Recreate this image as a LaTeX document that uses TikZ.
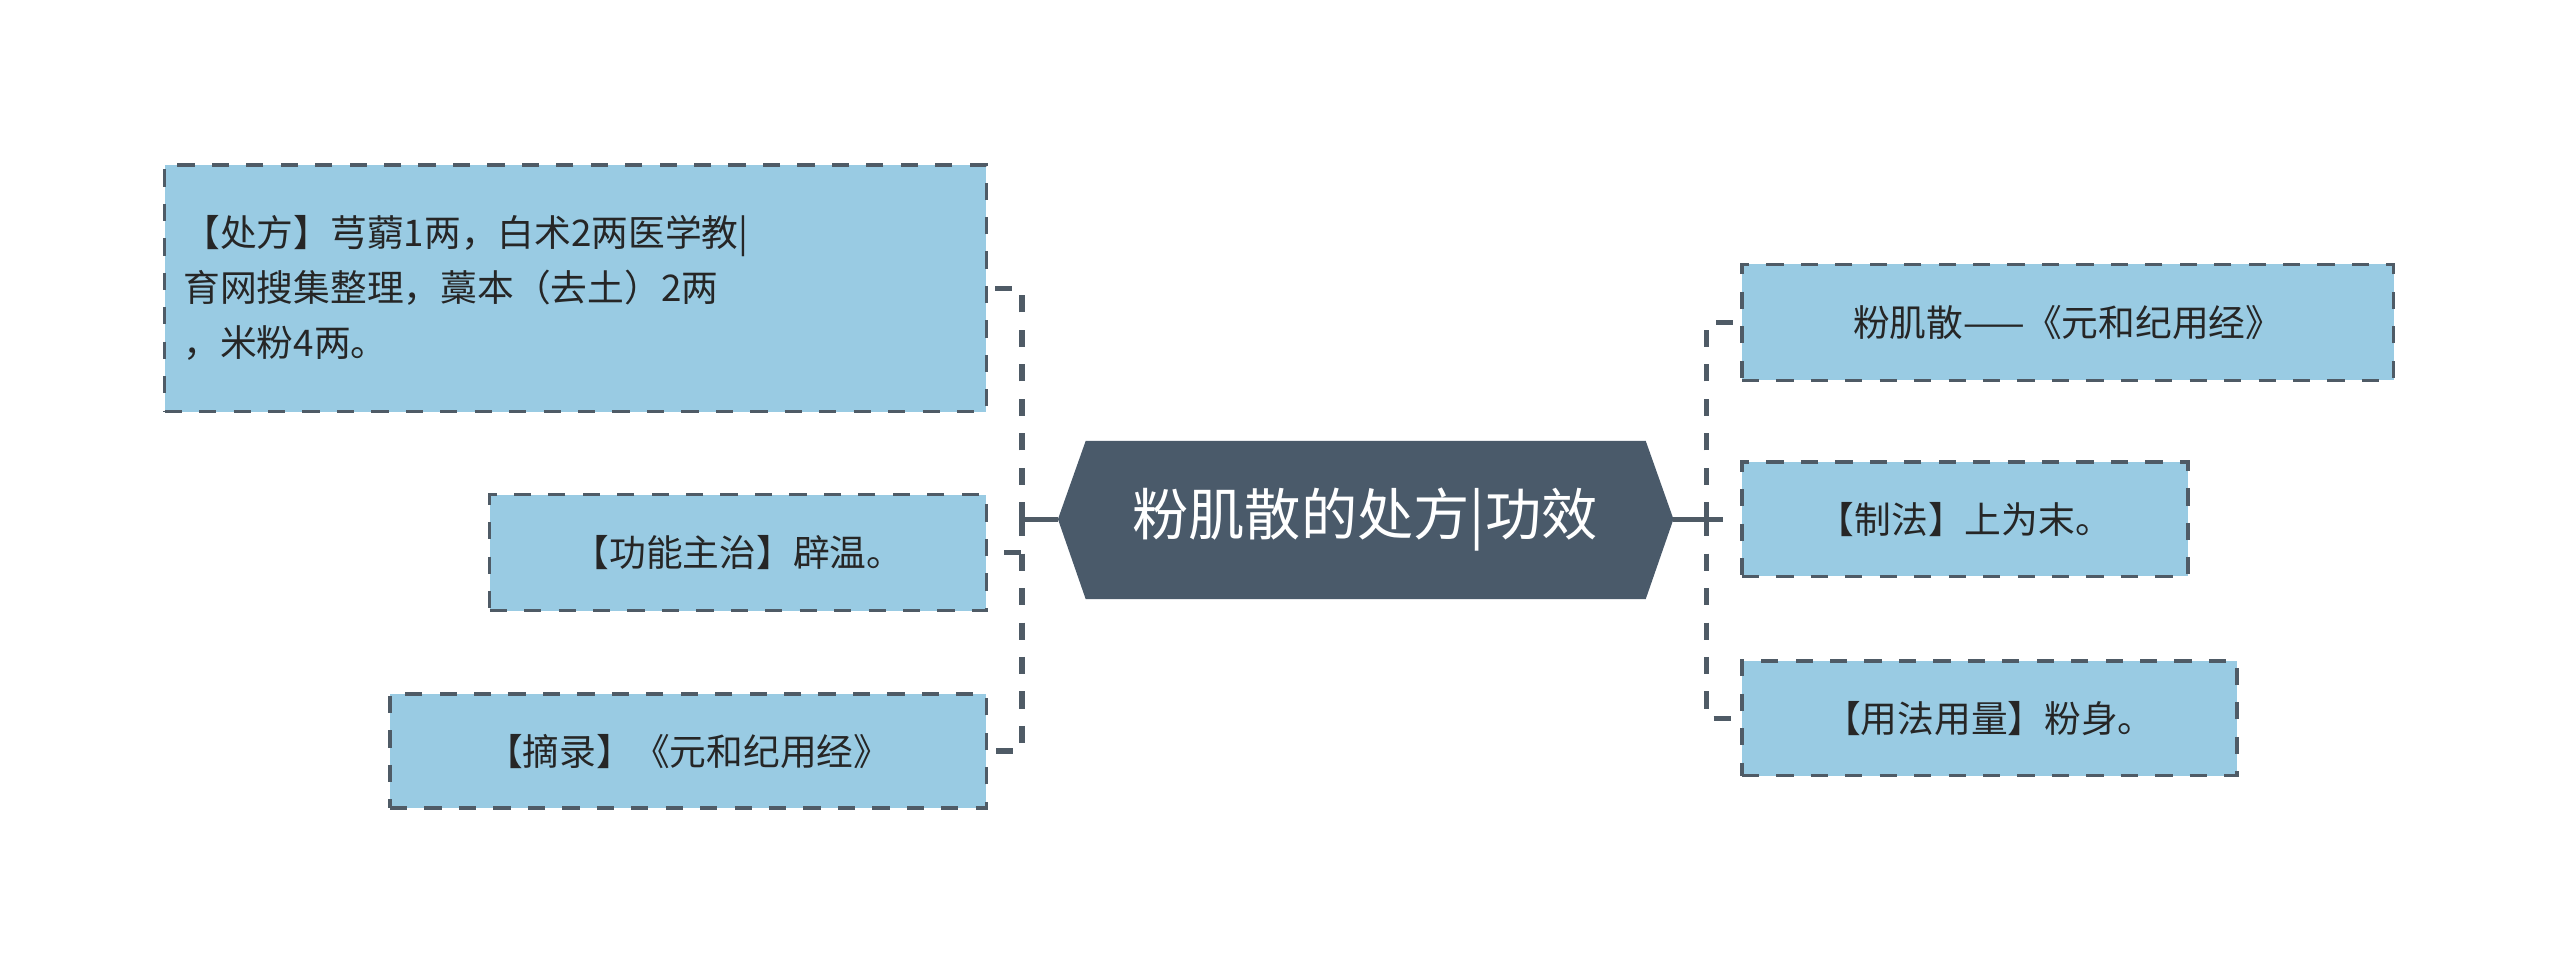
\documentclass[tikz,border=0pt]{standalone}
\usepackage{fontspec}
\newfontfamily\cjk{Noto Sans CJK SC}
\definecolor{boxfill}{HTML}{99CBE3}
\definecolor{edgec}{HTML}{4F5B66}
\definecolor{hexc}{HTML}{4A5A6A}
\begin{document}
\begin{tikzpicture}[x=0.01cm,y=-0.01cm,
  leaf/.style={draw=edgec,dashed,line width=0.6pt,fill=boxfill,inner sep=0pt,font=\cjk\fontsize{6.4pt}{9.6pt}\selectfont,text=black!85},
  link/.style={draw=edgec,dashed,line width=0.9pt},
  stub/.style={draw=edgec,line width=0.9pt}]
\useasboundingbox (0,0) rectangle (1568,597);
% central hexagon
\fill[hexc] (648,318) -- (665,270) -- (1008,270) -- (1025,318) -- (1008,367) -- (665,367) -- cycle;
\node[font=\cjk\fontsize{9.8pt}{12pt}\selectfont,text=white] (c) at (836,318) {粉肌散的处方|功效};
\coordinate (cl) at (648,318);
\coordinate (cr) at (1025,318);
% left boxes
\node[leaf,minimum width=5.03cm,minimum height=1.51cm,text width=4.8cm,align=left] (l1) at (352.5,176.5) {【处方】芎藭1两，白术2两医学教|\\育网搜集整理，藁本（去土）2两\\，米粉4两。};
\node[leaf,minimum width=3.04cm,minimum height=0.71cm] (l2) at (452,338.5) {【功能主治】辟温。};
\node[leaf,minimum width=3.65cm,minimum height=0.70cm] (l3) at (421.5,460) {【摘录】《元和纪用经》};
% right boxes
\node[leaf,minimum width=3.99cm,minimum height=0.71cm] (r1) at (1266.5,197.5) {粉肌散——《元和纪用经》};
\node[leaf,minimum width=2.73cm,minimum height=0.70cm] (r2) at (1203.5,318) {【制法】上为末。};
\node[leaf,minimum width=3.03cm,minimum height=0.70cm] (r3) at (1218.5,440) {【用法用量】粉身。};
% connectors
\coordinate (jl) at (626,318);
\coordinate (jr) at (1045,318);
\draw[stub] (cl) -- (jl);
\draw[stub] (cr) -- (jr);
\draw[link] (jl) |- (l1.east);
\draw[link] (jl) |- (l2.east);
\draw[link] (jl) |- (l3.east);
\draw[link] (jr) |- (r1.west);
\draw[link] (jr) -- (r2.west);
\draw[link] (jr) |- (r3.west);
\end{tikzpicture}
\end{document}
